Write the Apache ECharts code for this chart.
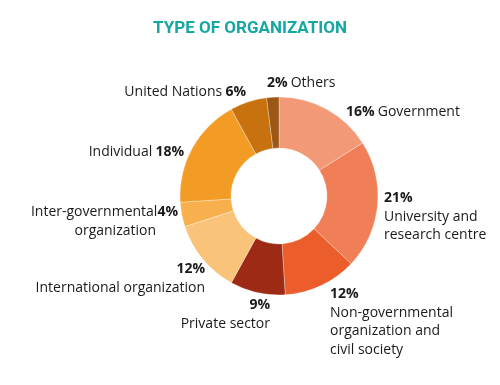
<!DOCTYPE html>
<html><head><meta charset="utf-8">
<script src="https://cdn.jsdelivr.net/npm/echarts@6/dist/echarts.min.js"></script>
<style>html,body{margin:0;padding:0;background:#fff}#c{width:500px;height:385px}</style>
</head><body><div id="c"></div>
<script>
const categories = ["Government","University and\nresearch centre","Non-governmental\norganization and\ncivil society","Private sector","International organization","Inter-governmental\norganization","Individual","United Nations","Others"];
const values = [16,21,12,9,12,4,18,6,2];
const colors = ["#F29A78","#F07E56","#EB5D2A","#9D2A15","#F9C37A","#F8AF4D","#F29C26","#C8710F","#9C5715"];
// label layout (position + alignment) per slice
const labelPos = [
  {x:346,y:103,align:'left'},
  {x:384,y:189,align:'left'},
  {x:330,y:285,align:'left'},
  {x:270,y:296,align:'right'},
  {x:205,y:260,align:'right'},
  {x:178,y:203,align:'right'},
  {x:184,y:143,align:'right'},
  {x:246,y:83,align:'right'},
  {x:267,y:74,align:'left'}
];
function fmt(i){
  const p = values[i] + '%';
  switch(i){
    case 0: return '{b|'+p+'} {n|Government}';
    case 1: return '{b|'+p+'}\n{n|University and}\n{n|research centre}';
    case 2: return '{b|'+p+'}\n{n|Non-governmental}\n{n|organization and}\n{n|civil society}';
    case 3: return '{b|'+p+'}\n{n|Private sector}';
    case 4: return '{b|'+p+'}\n{n|International organization}';
    case 5: return '{n|Inter-governmental}{b|'+p+'}\n{p|organization}';
    case 6: return '{n|Individual} {b|'+p+'}';
    case 7: return '{n|United Nations} {b|'+p+'}';
    case 8: return '{b|'+p+'} {n|Others}';
  }
}
const FONT = "'Open Sans', sans-serif";
const chart = echarts.init(document.getElementById('c'));
chart.setOption({
  animation:false,
  title:{text:'TYPE OF ORGANIZATION',left:'center',top:15,textStyle:{color:'#15A8A2',fontSize:17,fontWeight:'bold',fontFamily:"Roboto, sans-serif"}},
  series:[{
    type:'pie',
    center:[279,196],
    radius:[48,99],
    startAngle:90,
    clockwise:true,
    avoidLabelOverlap:false,
    itemStyle:{borderColor:'rgba(255,255,255,0.6)',borderWidth:0.5},
    label:{show:true,formatter:p=>fmt(p.dataIndex),color:'#1a1a1a',fontFamily:FONT,
      rich:{
        b:{fontWeight:'bold',fontSize:14,color:'#1a1a1a',fontFamily:FONT,lineHeight:18.5},
        n:{fontSize:14,color:'#1a1a1a',fontFamily:FONT,lineHeight:18.5},
        p:{fontSize:14,color:'#1a1a1a',fontFamily:FONT,lineHeight:18.5,padding:[0,22,0,0]}
      }},
    labelLine:{show:false},
    labelLayout:function(params){
      const l = labelPos[params.dataIndex];
      return {x:l.x,y:l.y,align:l.align,verticalAlign:'top'};
    },
    data: categories.map((c,i)=>({name:c,value:values[i],itemStyle:{color:colors[i]}}))
  }]
});
</script></body></html>
